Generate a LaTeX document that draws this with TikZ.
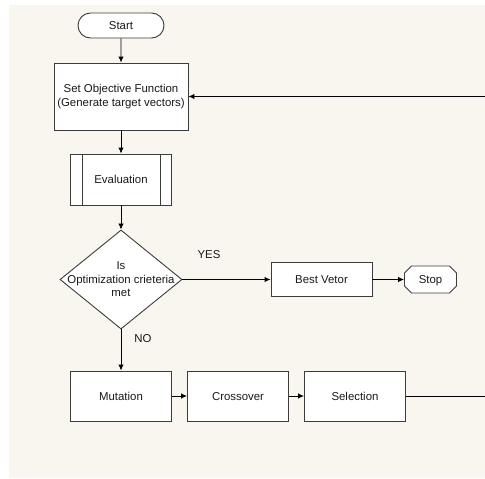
\documentclass[tikz,border=0pt]{standalone}
\usepackage{fontspec}
\setmainfont{Liberation Sans}
\usetikzlibrary{shapes.geometric,shapes.misc,arrows.meta}
\definecolor{panel}{RGB}{249,246,240}
\definecolor{edge}{RGB}{60,60,60}

\begin{document}
\begin{tikzpicture}[x=1pt,y=-1pt,>={Latex[length=6pt,width=5.5pt]},
	every node/.style={font=\fontsize{11.4}{13.6}\selectfont,text=black!90},
	box/.style={draw=edge,fill=white,line width=0.9pt,inner sep=0pt,align=center},
	oneline/.style={text height=8.2pt,text depth=0pt},
	flow/.style={->,line width=0.9pt,draw=black}]

	\useasboundingbox (0,0) rectangle (485,479);
	\fill[panel] (9,5) rectangle (485,478);

	\node[box,oneline,rounded rectangle,minimum width=86pt,minimum height=25pt] (start) at (121,25.5) {Start};
	\node[box,minimum width=134pt,minimum height=67pt] (objective) at (121,96.5) {Set Objective Function\\(Generate target vectors)};
	\node[box,oneline,minimum width=101pt,minimum height=51pt] (eval) at (121,179.5) {Evaluation};
	\draw[edge,line width=0.9pt] ([xshift=12pt]eval.north west) -- ([xshift=12pt]eval.south west);
	\draw[edge,line width=0.9pt] ([xshift=-12pt]eval.north east) -- ([xshift=-12pt]eval.south east);

	\node[box,diamond,minimum width=122pt,minimum height=99pt] (crit) at (121,279.5) {};
	\node[align=center] (crittext) at (crit.center) {Is\\Optimization crieteria\\met};
	\node[box,oneline,minimum width=101pt,minimum height=34pt] (best) at (321.5,279.5) {Best Vetor};
	\node[box,oneline,chamfered rectangle,minimum width=52pt,minimum height=27pt] (stop) at (430.5,279.5) {Stop};

	\node[box,oneline,minimum width=101pt,minimum height=50pt] (mutation) at (121,396) {Mutation};
	\node[box,oneline,minimum width=101pt,minimum height=50pt] (crossover) at (238,396) {Crossover};
	\node[box,oneline,minimum width=101pt,minimum height=50pt] (selection) at (355,396) {Selection};

	\node (yes) at (209,255) {YES};
	\node (no) at (143,339) {NO};
	\coordinate (loopin) at (491,396);
	\coordinate (loopout) at (485,96.5);

	\draw[flow] (start) -- (objective);
	\draw[flow] (objective) -- (eval);
	\draw[flow] (eval) -- (crit);
	\draw[flow] (crit) -- (best);
	\draw[flow] (best) -- (stop);
	\draw[flow] (crit) -- (mutation);
	\draw[flow] (mutation) -- (crossover);
	\draw[flow] (crossover) -- (selection);
	\draw[flow] (selection) -- (loopin);
	\draw[flow] (loopout) -- (objective.east);

\end{tikzpicture}
\end{document}
